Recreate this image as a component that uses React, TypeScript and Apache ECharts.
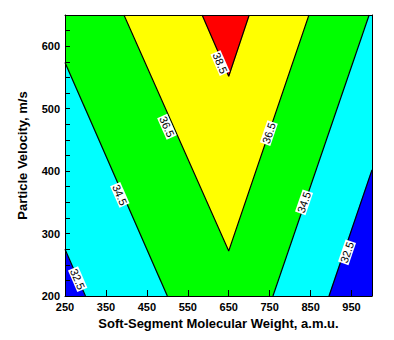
import React, { useEffect, useRef } from "react";
import * as echarts from "echarts";

// Axis ranges and tick values
const xRange = [250, 1000];
const yRange = [200, 650];
const xTickValues = [250, 350, 450, 550, 650, 750, 850, 950];
const yLabelValues = [200, 300, 400, 500, 600];
const yTickValues = [200, 225, 250, 275, 300, 325, 350, 375, 400, 425, 450, 475, 500, 525, 550, 575, 600, 625, 650];

// Contour lines: [molecular weight, velocity]
const contour325Left = [[250, 275], [300, 200]];
const contour345Left = [[250, 574], [500, 200]];
const contour365 = [[394, 650], [650, 272], [846, 650]];
const contour385 = [[585, 650], [650, 552], [700, 650]];
const contour345Right = [[758, 200], [993, 650]];
const contour325Right = [[895, 200], [1000, 402]];

// Contour labels: [x, y, text, line, segment index]
const labelTexts = ["32.5", "34.5", "36.5", "38.5", "36.5", "34.5", "32.5"];
const labelX = [281, 384, 499, 629, 748, 834, 939];
const labelY = [227, 362, 471, 573, 461, 350, 270];

const fontFamily = "'Liberation Sans', Arial, sans-serif";

export default function App() {
  const ref = useRef<HTMLDivElement>(null);
  useEffect(() => {
    if (!ref.current) return;
    const chart = echarts.init(ref.current, null, { renderer: "svg" });
    const [x0, x1] = xRange;
    const [y0, y1] = yRange;

    const regions = [
      { color: "#0000ff", points: [[x0, y0], contour325Left[1], contour325Left[0]] },
      { color: "#00ffff", points: [contour325Left[0], contour325Left[1], contour345Left[1], contour345Left[0]] },
      {
        color: "#00ff00",
        points: [contour345Left[0], contour345Left[1], contour345Right[0], contour345Right[1], contour365[2], contour365[1], contour365[0], [x0, y1]],
      },
      { color: "#ffff00", points: [contour365[0], contour365[1], contour365[2], contour385[2], contour385[1], contour385[0]] },
      { color: "#ff0000", points: [contour385[0], contour385[1], contour385[2]] },
      { color: "#00ffff", points: [contour345Right[0], contour325Right[0], contour325Right[1], [x1, y1], contour345Right[1]] },
      { color: "#0000ff", points: [contour325Right[0], [x1, y0], contour325Right[1]] },
    ];

    const labelLines = [
      contour325Left,
      contour345Left,
      [contour365[0], contour365[1]],
      [contour385[0], contour385[1]],
      [contour365[1], contour365[2]],
      contour345Right,
      contour325Right,
    ];

    const lines = [contour325Left, contour345Left, contour365, contour385, contour345Right, contour325Right];

    const axisLine = { show: true, lineStyle: { color: "#000", width: 1 } };

    chart.setOption({
      animation: false,
      backgroundColor: "#fff",
      grid: { left: 65, top: 15, right: 22, bottom: 44 },
      xAxis: [
        {
          type: "value",
          min: x0,
          max: x1,
          z: 10,
          axisLine,
          splitLine: { show: false },
          axisTick: { show: true, inside: true, length: 6, customValues: xTickValues, lineStyle: { color: "#000" } },
          axisLabel: {
            customValues: xTickValues,
            color: "#000",
            fontWeight: "bold",
            fontSize: 11,
            fontFamily,
            margin: 5,
          },
          name: "Soft-Segment Molecular Weight, a.m.u.",
          nameLocation: "middle",
          nameGap: 20,
          nameTextStyle: { color: "#000", fontWeight: "bold", fontSize: 13, fontFamily },
        },
        {
          type: "value",
          position: "top",
          min: x0,
          max: x1,
          z: 10,
          axisLine,
          axisTick: { show: false },
          axisLabel: { show: false },
          splitLine: { show: false },
        },
      ],
      yAxis: [
        {
          type: "value",
          min: y0,
          max: y1,
          z: 10,
          axisLine,
          splitLine: { show: false },
          axisTick: { show: true, inside: true, length: 5, customValues: yTickValues, lineStyle: { color: "#000" } },
          axisLabel: {
            customValues: yLabelValues,
            color: "#000",
            fontWeight: "bold",
            fontSize: 11,
            fontFamily,
            margin: 5,
          },
          name: "Particle Velocity, m/s",
          nameLocation: "middle",
          nameGap: 36,
          nameTextStyle: { color: "#000", fontWeight: "bold", fontSize: 13, fontFamily },
        },
        {
          type: "value",
          position: "right",
          min: y0,
          max: y1,
          z: 10,
          axisLine,
          axisTick: { show: false },
          axisLabel: { show: false },
          splitLine: { show: false },
        },
      ],
      series: [
        {
          type: "custom",
          clip: true,
          silent: true,
          z: 1,
          data: regions.map((r) => r.points[0]),
          renderItem: (params: any, api: any) => {
            const r = regions[params.dataIndex];
            return {
              type: "polygon",
              shape: { points: r.points.map((p) => api.coord(p)) },
              style: { fill: r.color, stroke: r.color, lineWidth: 0.5 },
            };
          },
        },
        ...lines.map((l) => ({
          type: "line",
          data: l,
          symbol: "none",
          silent: true,
          z: 3,
          lineStyle: { color: "#000", width: 1.2 },
        })),
        {
          type: "custom",
          silent: true,
          z: 5,
          data: labelX.map((x, i) => [x, labelY[i]]),
          renderItem: (params: any, api: any) => {
            const i = params.dataIndex;
            const seg = labelLines[i];
            const p1 = api.coord(seg[0]);
            const p2 = api.coord(seg[1]);
            const rotation = Math.atan2(-(p2[1] - p1[1]), p2[0] - p1[0]);
            const c = api.coord([labelX[i], labelY[i]]);
            return {
              type: "text",
              x: c[0],
              y: c[1],
              rotation,
              style: {
                text: labelTexts[i],
                fill: "#000",
                font: `11px ${fontFamily}`,
                align: "center",
                verticalAlign: "middle",
                backgroundColor: "#fff",
                padding: [0, 1],
              },
            };
          },
        },
      ],
    });
    return () => chart.dispose();
  }, []);
  return <div ref={ref} style={{ position: "fixed", left: 0, top: 0, width: 394, height: 340 }} />;
}
